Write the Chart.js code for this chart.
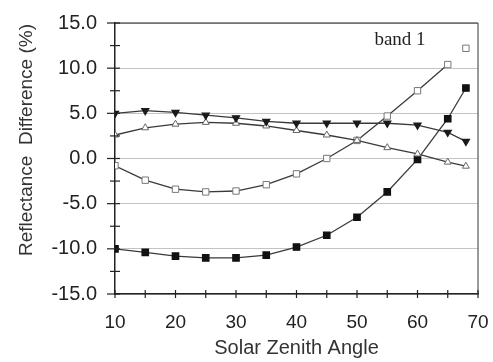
<!DOCTYPE html>
<html>
<head>
<meta charset="utf-8">
<script src="https://cdn.jsdelivr.net/npm/chart.js@4.4.3/dist/chart.umd.min.js"></script>
<style>
  html, body { margin: 0; padding: 0; background: #fff; }
  #chart { display: block; }
</style>
</head>
<body>
<canvas id="chart" width="493" height="362"></canvas>
<script>
const zenithAngles = [10, 15, 20, 25, 30, 35, 40, 45, 50, 55, 60, 65, 68];
const filledTriangle = [5.0, 5.3, 5.1, 4.8, 4.5, 4.1, 3.9, 3.9, 3.9, 3.9, 3.7, 2.9, 1.9];
const openTriangle = [2.6, 3.4, 3.8, 4.0, 3.9, 3.6, 3.1, 2.6, 2.0, 1.2, 0.5, -0.4, -0.85];
const openSquare = [-0.8, -2.4, -3.4, -3.7, -3.6, -2.9, -1.7, 0.0, 2.0, 4.7, 7.5, 10.4, 12.2];
const filledSquare = [-10.0, -10.4, -10.8, -11.0, -11.0, -10.7, -9.8, -8.5, -6.5, -3.7, -0.1, 4.4, 7.8];
const yTicks = [-15, -10, -5, 0, 5, 10, 15];
const xTicks = [10, 20, 30, 40, 50, 60, 70];

const lineColor = "#3a3a3a";

function toPoints(values) {
  return zenithAngles.map((x, i) => ({ x, y: values[i] }));
}

// cross ticks on both axes, frame on top/right, free text
const decorations = {
  id: "decorations",
  afterDraw(chart) {
    const { ctx, chartArea: area, scales } = chart;
    const x = scales.x;
    const y = scales.y;
    ctx.save();
    ctx.strokeStyle = "#222";
    ctx.lineWidth = 1.2;
    ctx.beginPath();
    ctx.moveTo(area.left, area.top);
    ctx.lineTo(area.right, area.top);
    ctx.stroke();
    ctx.strokeStyle = "#555";
    ctx.beginPath();
    ctx.moveTo(area.right, area.top);
    ctx.lineTo(area.right, area.bottom);
    ctx.stroke();

    ctx.strokeStyle = "#222";
    ctx.lineWidth = 1.2;
    for (let v = y.min; v <= y.max; v += 2.5) {
      const py = y.getPixelForValue(v);
      const major = v % 5 === 0;
      ctx.beginPath();
      ctx.moveTo(area.left - (major ? 8 : 5), py);
      ctx.lineTo(area.left + 5, py);
      ctx.stroke();
    }
    for (let v = x.min; v <= x.max; v += 5) {
      const px = x.getPixelForValue(v);
      ctx.beginPath();
      ctx.moveTo(px, area.bottom - 4);
      ctx.lineTo(px, area.bottom + 4);
      ctx.stroke();
    }

    ctx.fillStyle = "#222";
    ctx.font = '19px "Liberation Serif", serif';
    ctx.textAlign = "center";
    ctx.textBaseline = "middle";
    ctx.fillText("band 1", 400, 40);

    ctx.translate(27, 140);
    ctx.rotate(-Math.PI / 2);
    ctx.font = '19px "Liberation Sans", Arial, sans-serif';
    ctx.fillStyle = "#333";
    ctx.fillText("Reflectance  Difference (%)", 0, 0);
    ctx.restore();
  },
};

new Chart(document.getElementById("chart"), {
  type: "scatter",
  data: {
    datasets: [
      {
        label: "filled triangle",
        data: toPoints(filledTriangle),
        showLine: true,
        borderColor: lineColor,
        borderWidth: 1.3,
        pointStyle: "triangle",
        rotation: 180,
        pointRadius: 4,
        pointBackgroundColor: "#1a1a1a",
        pointBorderColor: "#1a1a1a",
      },
      {
        label: "open triangle",
        data: toPoints(openTriangle),
        showLine: true,
        borderColor: lineColor,
        borderWidth: 1.3,
        pointStyle: "triangle",
        pointRadius: 4,
        pointBackgroundColor: "#fff",
        pointBorderColor: "#666",
        pointBorderWidth: 1,
      },
      {
        label: "open square",
        data: toPoints(openSquare),
        showLine: true,
        borderColor: lineColor,
        borderWidth: 1.3,
        segment: {
          borderColor: (ctx) => (ctx.p1DataIndex === zenithAngles.length - 1 ? "rgba(0,0,0,0)" : lineColor),
        },
        pointStyle: "rect",
        pointRadius: 4.5,
        pointBackgroundColor: "#fff",
        pointBorderColor: "#777",
        pointBorderWidth: 1,
      },
      {
        label: "filled square",
        data: toPoints(filledSquare),
        showLine: true,
        borderColor: lineColor,
        borderWidth: 1.3,
        pointStyle: "rect",
        pointRadius: 4.5,
        pointBackgroundColor: "#111",
        pointBorderColor: "#111",
      },
    ],
  },
  options: {
    responsive: false,
    animation: false,
    layout: { padding: { top: 23, right: 15, left: 0, bottom: 0 } },
    plugins: {
      legend: { display: false },
      tooltip: { enabled: false },
    },
    scales: {
      x: {
        type: "linear",
        min: 10,
        max: 70,
        afterBuildTicks: (scale) => {
          scale.ticks = xTicks.map((value) => ({ value }));
        },
        afterFit: (scale) => {
          scale.height = 68;
          scale.paddingLeft = 0;
          scale.paddingRight = 0;
        },
        ticks: {
          color: "#222",
          font: { family: '"Liberation Sans", Arial, sans-serif', size: 19 },
          padding: 17,
          maxRotation: 0,
        },
        grid: { display: false, drawTicks: false },
        border: { color: "#222", width: 1.5 },
        title: {
          display: true,
          text: "Solar Zenith Angle",
          color: "#333",
          font: { family: '"Liberation Sans", Arial, sans-serif', size: 20 },
          padding: { top: 0, bottom: 2 },
        },
      },
      y: {
        min: -15,
        max: 15,
        afterBuildTicks: (scale) => {
          scale.ticks = yTicks.map((value) => ({ value }));
        },
        afterFit: (scale) => {
          scale.width = 115;
          scale.paddingTop = 0;
          scale.paddingBottom = 0;
        },
        ticks: {
          color: "#222",
          font: { family: '"Liberation Sans", Arial, sans-serif', size: 20 },
          padding: 18,
          callback: (value) => value.toFixed(1),
        },
        grid: { color: "#c4c4c4", lineWidth: 1, drawTicks: false },
        border: { color: "#222", width: 1.5 },
      },
    },
  },
  plugins: [decorations],
});
</script>
</body>
</html>
